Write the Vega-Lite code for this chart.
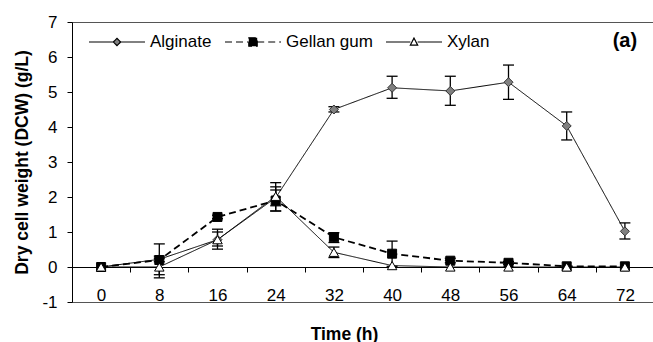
{
  "$schema": "https://vega.github.io/schema/vega-lite/v6.json",
  "width": 582,
  "height": 280,
  "autosize": {"type": "none"},
  "padding": {"left": 72, "top": 22, "right": 0, "bottom": 40},
  "background": "white",
  "config": {
    "font": "Liberation Sans",
    "view": {"stroke": "#555555", "strokeWidth": 1},
    "axis": {"grid": false},
    "axisY": {
      "tickCount": 8,
      "labelExpr": "'' + datum.value",
      "labelOverlap": false,
      "labelFontSize": 17,
      "labelColor": "black",
      "labelPadding": 10,
      "tickSize": 5,
      "tickColor": "black",
      "domainColor": "black",
      "titleFontSize": 17.5,
      "titleFontWeight": "bold",
      "titleColor": "black",
      "titleAngle": -90,
      "titleX": -50,
      "titleY": 140,
      "titleBaseline": "middle",
      "titleAlign": "center"
    },
    "legend": {
      "orient": "none",
      "legendX": 16,
      "legendY": -9,
      "direction": "horizontal",
      "labelFontSize": 17,
      "labelColor": "black",
      "labelFont": "Liberation Sans",
      "symbolSize": 3136,
      "symbolOpacity": 1,
      "symbolStrokeColor": "black",
      "symbolStrokeWidth": 1.2,
      "labelOffset": 4,
      "columnPadding": 10,
      "padding": 0
    }
  },
  "data": {
    "values": [
      {"series": "Alginate", "time": "0", "value": 0, "lo": null, "hi": null},
      {"series": "Alginate", "time": "8", "value": 0.22, "lo": -0.22, "hi": 0.66},
      {"series": "Alginate", "time": "16", "value": 0.78, "lo": 0.51, "hi": 1.08},
      {"series": "Alginate", "time": "24", "value": 1.98, "lo": 1.6, "hi": 2.41},
      {"series": "Alginate", "time": "32", "value": 4.5, "lo": 4.43, "hi": 4.58},
      {"series": "Alginate", "time": "40", "value": 5.12, "lo": 4.82, "hi": 5.45},
      {"series": "Alginate", "time": "48", "value": 5.03, "lo": 4.62, "hi": 5.45},
      {"series": "Alginate", "time": "56", "value": 5.28, "lo": 4.79, "hi": 5.77},
      {"series": "Alginate", "time": "64", "value": 4.03, "lo": 3.63, "hi": 4.43},
      {"series": "Alginate", "time": "72", "value": 1.02, "lo": 0.8, "hi": 1.26},
      {"series": "Gellan gum", "time": "0", "value": 0, "lo": null, "hi": null},
      {"series": "Gellan gum", "time": "8", "value": 0.2, "lo": 0.15, "hi": 0.25},
      {"series": "Gellan gum", "time": "16", "value": 1.43, "lo": 1.38, "hi": 1.48},
      {"series": "Gellan gum", "time": "24", "value": 1.9, "lo": 1.6, "hi": 2.2},
      {"series": "Gellan gum", "time": "32", "value": 0.85, "lo": 0.7, "hi": 0.98},
      {"series": "Gellan gum", "time": "40", "value": 0.38, "lo": 0.02, "hi": 0.74},
      {"series": "Gellan gum", "time": "48", "value": 0.18, "lo": 0.12, "hi": 0.25},
      {"series": "Gellan gum", "time": "56", "value": 0.12, "lo": 0.08, "hi": 0.16},
      {"series": "Gellan gum", "time": "64", "value": 0.02, "lo": null, "hi": null},
      {"series": "Gellan gum", "time": "72", "value": 0.02, "lo": null, "hi": null},
      {"series": "Xylan", "time": "0", "value": 0, "lo": null, "hi": null},
      {"series": "Xylan", "time": "8", "value": 0, "lo": -0.31, "hi": 0.31},
      {"series": "Xylan", "time": "16", "value": 0.78, "lo": 0.6, "hi": 1.0},
      {"series": "Xylan", "time": "24", "value": 2.02, "lo": 1.75, "hi": 2.29},
      {"series": "Xylan", "time": "32", "value": 0.42, "lo": 0.27, "hi": 0.57},
      {"series": "Xylan", "time": "40", "value": 0.04, "lo": null, "hi": null},
      {"series": "Xylan", "time": "48", "value": 0, "lo": null, "hi": null},
      {"series": "Xylan", "time": "56", "value": 0, "lo": null, "hi": null},
      {"series": "Xylan", "time": "64", "value": 0, "lo": null, "hi": null},
      {"series": "Xylan", "time": "72", "value": 0, "lo": null, "hi": null}
    ]
  },
  "encoding": {
    "x": {
      "field": "time",
      "type": "ordinal",
      "scale": {"domain": ["0", "8", "16", "24", "32", "40", "48", "56", "64", "72"], "paddingInner": 0, "paddingOuter": 0},
      "axis": {
        "title": "Time (h)",
        "offset": -35,
        "labelAngle": 0,
        "labelFontSize": 17,
        "labelColor": "black",
        "labelPadding": 15,
        "tickBand": "extent",
        "tickSize": 5,
        "tickColor": "black",
        "domainColor": "black",
        "titleFontSize": 17.5,
        "titleFontWeight": "bold",
        "titleColor": "black",
        "titleX": 272,
        "titleY": 72,
        "titleBaseline": "alphabetic",
        "titleAlign": "center"
      }
    }
  },
  "layer": [
    {
      "transform": [{"filter": "datum.hi != null"}],
      "mark": {"type": "rule", "color": "black", "strokeWidth": 1.3},
      "encoding": {
        "y": {"field": "lo", "type": "quantitative", "scale": {"domain": [-1, 7], "nice": false}, "axis": {"title": "Dry cell weight (DCW) (g/L)"}},
        "y2": {"field": "hi"}
      }
    },
    {
      "transform": [{"filter": "datum.hi != null"}],
      "mark": {"type": "tick", "color": "black", "size": 11, "thickness": 1.3, "opacity": 1},
      "encoding": {"y": {"field": "lo", "type": "quantitative", "axis": {"title": "Dry cell weight (DCW) (g/L)"}}}
    },
    {
      "transform": [{"filter": "datum.hi != null"}],
      "mark": {"type": "tick", "color": "black", "size": 11, "thickness": 1.3, "opacity": 1},
      "encoding": {"y": {"field": "hi", "type": "quantitative", "axis": {"title": "Dry cell weight (DCW) (g/L)"}}}
    },
    {
      "mark": {"type": "line", "color": "black"},
      "encoding": {
        "y": {"field": "value", "type": "quantitative", "axis": {"title": "Dry cell weight (DCW) (g/L)"}},
        "detail": {"field": "series"},
        "strokeWidth": {"condition": {"test": "datum.series === 'Gellan gum'", "value": 1.8}, "value": 1},
        "strokeDash": {
          "field": "series",
          "type": "nominal",
          "scale": {"domain": ["Alginate", "Gellan gum", "Xylan"], "range": [[1, 0], [7, 4], [1, 0]]},
          "legend": {"title": null}
        }
      }
    },
    {
      "transform": [{"filter": "datum.time === '0'"}],
      "mark": {"type": "point", "filled": true, "opacity": 0},
      "encoding": {
        "y": {"field": "value", "type": "quantitative", "axis": {"title": "Dry cell weight (DCW) (g/L)"}},
        "shape": {
          "field": "series",
          "type": "nominal",
          "scale": {"domain": ["Alginate", "Gellan gum", "Xylan"], "range": ["M-1,0H-0.13M-0.13,0L0,-0.13L0.13,0L0,0.13ZM0.13,0H1", "M-1,0H-0.15M-0.15,-0.15H0.15V0.15H-0.15ZM0.15,0H1", "M-1,0H-0.13M-0.13,0.11L0,-0.14L0.13,0.11ZM0.13,0H1"]},
          "legend": {"title": null}
        },
        "fill": {
          "field": "series",
          "type": "nominal",
          "scale": {"domain": ["Alginate", "Gellan gum", "Xylan"], "range": ["#808080", "#000000", "#ffffff"]},
          "legend": {"title": null}
        },
        "stroke": {
          "field": "series",
          "type": "nominal",
          "scale": {"domain": ["Alginate", "Gellan gum", "Xylan"], "range": ["#000000", "#000000", "#000000"]},
          "legend": {"title": null}
        }
      }
    },
    {
      "transform": [{"filter": "datum.series === 'Alginate'"}],
      "mark": {"type": "point", "shape": "diamond", "filled": true, "fill": "#808080", "stroke": "#333333", "opacity": 1, "size": 81, "strokeWidth": 1},
      "encoding": {"y": {"field": "value", "type": "quantitative", "axis": {"title": "Dry cell weight (DCW) (g/L)"}}}
    },
    {
      "transform": [{"filter": "datum.series === 'Gellan gum'"}],
      "mark": {"type": "point", "shape": "square", "filled": true, "fill": "#000000", "stroke": "#000000", "opacity": 1, "size": 81, "strokeWidth": 1},
      "encoding": {"y": {"field": "value", "type": "quantitative", "axis": {"title": "Dry cell weight (DCW) (g/L)"}}}
    },
    {
      "transform": [{"filter": "datum.series === 'Xylan'"}],
      "mark": {"type": "point", "shape": "triangle-up", "filled": true, "fill": "#ffffff", "stroke": "#000000", "opacity": 1, "size": 90, "strokeWidth": 1},
      "encoding": {"y": {"field": "value", "type": "quantitative", "axis": {"title": "Dry cell weight (DCW) (g/L)"}}}
    },
    {
      "data": {"values": [{"label": "(a)"}]},
      "mark": {"type": "text", "fontSize": 20, "fontWeight": "bold", "font": "Liberation Sans", "color": "black", "align": "center", "baseline": "middle"},
      "encoding": {
        "x": {"datum": "72"},
        "y": {"datum": 6.45},
        "text": {"field": "label"}
      }
    }
  ]
}
